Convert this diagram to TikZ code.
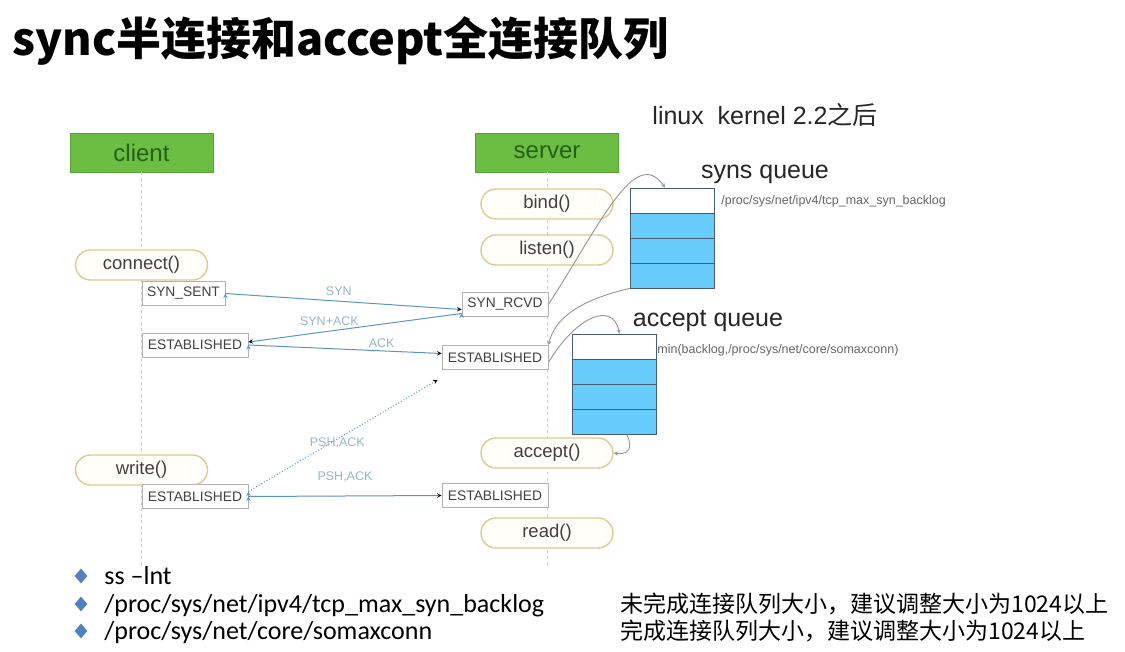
\documentclass[tikz,border=0pt]{standalone}
\usepackage{fontspec}
\setmainfont{Liberation Sans}
\newfontfamily\cjk{Noto Sans CJK SC}
\newfontfamily\slidefont{Carlito}
\usetikzlibrary{arrows, positioning, shapes.geometric}
\definecolor{boxgreen}{RGB}{108, 190, 66}
\definecolor{darkgreen}{RGB}{36, 96, 24}
\definecolor{pillborder}{RGB}{222, 202, 146}
\definecolor{pillfill}{RGB}{255, 254, 248}
\definecolor{queueblue}{RGB}{104, 204, 250}
\definecolor{queueline}{RGB}{72, 92, 112}
\definecolor{msgblue}{RGB}{92, 150, 200}
\definecolor{msgtext}{RGB}{150, 182, 206}
\definecolor{flowgray}{RGB}{150, 150, 150}
\definecolor{bulletblue}{RGB}{79, 129, 189}
\newcommand{\pt}[1]{\fontsize{#1}{#1}\selectfont}

\begin{document}
\begin{tikzpicture}[
                x = 1pt, y = -1pt, % pixel grid, y grows downwards
                > = stealth, % arrow head style
                line width = 0.8pt,
                font = \pt{18.5},
                ]
                \tikzstyle{role}=[
                    draw = boxgreen!85!black,
                    fill = boxgreen,
                    text = darkgreen,
                    minimum width = 143,
                    minimum height = 39,
                    font = \pt{24},
                ]
                \tikzstyle{pill}=[
                    draw = pillborder,
                    fill = pillfill,
                    line width = 1.4pt,
                    rounded corners = 15pt,
                    minimum width = 132,
                    minimum height = 30,
                    text = black!75,
                ]
                \tikzstyle{statebox}=[
                    draw = black!30,
                    fill = white,
                    minimum height = 24,
                    inner sep = 2pt,
                    text = black!75,
                    font = \pt{13.8},
                ]
                \tikzstyle{cell}=[
                    draw = queueline,
                    minimum width = 84,
                    minimum height = 25,
                    inner sep = 0pt,
                ]
                \tikzstyle{msg}=[draw = msgblue, line width = 1pt]
                \tikzstyle{msglabel}=[text = msgtext, font = \pt{12.5}, inner sep = 1pt]
                \tikzstyle{flow}=[draw = flowgray, line width = 0.9pt]
                \tikzstyle{pathnote}=[anchor = west, text = black!60, font = \pt{12.5}, inner sep = 0pt]
                \tikzstyle{heading}=[font = \pt{25}, text = black!85]
                \tikzstyle{lifeline}=[draw = red!20!black!20, dashed, line width = 1pt]
                \tikzstyle{bullet}=[diamond, fill = bulletblue, inner sep = 0pt,
                    minimum width = 13, minimum height = 15]
                \tikzstyle{item}=[anchor = base west, inner sep = 0pt, font = \slidefont\pt{26}]
                \tikzstyle{note}=[anchor = base west, inner sep = 0pt, font = \cjk\pt{23}]

                \useasboundingbox (0,0) rectangle (1125,652);
                \fill[white] (0,0) rectangle (1125,652);

                \node[anchor = base west, inner sep = 0pt, font = \cjk\bfseries\pt{45}]
                    (title) at (12,56) {sync半连接和accept全连接队列};

                % client and server with their lifelines
                \node[role] (client) at (141.5,152.5) {client};
                \node[role] (server) at (547,152.5) {server};
                \coordinate (clientend) at (141.5,565);
                \coordinate (serverend) at (547,565);
                \draw[lifeline] (client) -- (clientend);
                \draw[lifeline] (server) -- (serverend);

                \node[heading] (kernel) at (765,115) {linux\ \ kernel 2.2{\cjk 之后}};

                % calls
                \node[pill] (bind) at (547,204) {bind()};
                \node[pill] (listen) at (547,250) {listen()};
                \node[pill] (connect) at (141.5,265) {connect()};
                \node[pill] (accept) at (547,453) {accept()};
                \node[pill] (write) at (141.5,470) {write()};
                \node[pill] (read) at (547,533) {read()};

                % states
                \node[statebox, minimum width = 83] (synsent) at (183.5,293.5) {SYN\_SENT};
                \node[statebox, minimum width = 106] (clientest) at (195,345) {ESTABLISHED};
                \node[statebox, minimum width = 86] (synrcvd) at (505,304.5) {SYN\_RCVD};
                \node[statebox, minimum width = 106] (serverest) at (495,357.5) {ESTABLISHED};
                \node[statebox, minimum width = 106] (clientdata) at (195,496.5) {ESTABLISHED};
                \node[statebox, minimum width = 106] (serverdata) at (495,495.5) {ESTABLISHED};

                % syns queue
                \node[cell, fill = white] (syn1) at (672,200.5) {};
                \node[cell, fill = queueblue] (syn2) at (672,225.5) {};
                \node[cell, fill = queueblue] (syn3) at (672,250.5) {};
                \node[cell, fill = queueblue] (syn4) at (672,275.5) {};
                \node[heading] (synslabel) at (765,174) {syns queue};
                \node[pathnote] (synsnote) at (721,201) {/proc/sys/net/ipv4/tcp\_max\_syn\_backlog};

                % accept queue
                \node[cell, fill = white] (acc1) at (614.5,346.5) {};
                \node[cell, fill = queueblue] (acc2) at (614.5,371.5) {};
                \node[cell, fill = queueblue] (acc3) at (614.5,396.5) {};
                \node[cell, fill = queueblue] (acc4) at (614.5,421.5) {};
                \node[heading] (acceptlabel) at (708,321) {accept queue};
                \node[pathnote] (acceptnote) at (657,350) {min(backlog,/proc/sys/net/core/somaxconn)};

                % handshake
                \path[msg, ->] (synsent.east) edge
                node[msglabel, pos = 0.48, above = 4pt] {SYN}
                ([yshift = -5pt]synrcvd.west);

                \path[msg, ->] ([yshift = -9pt]synrcvd.west) edge
                node[msglabel, pos = 0.62, above = 4pt] {SYN+ACK}
                ([yshift = 3pt]clientest.east);

                \path[msg, ->] (clientest.east) edge
                node[msglabel, pos = 0.69, above = 2pt] {ACK}
                ([yshift = 4pt]serverest.west);

                % data
                \path[msg, dotted, ->] ([yshift = 5pt]clientdata.east) edge
                node[msglabel, pos = 0.47, yshift = -4pt] {PSH,ACK}
                ([shift = {(-4pt,-10pt)}]serverest.south west);

                \path[msg, ->] (clientdata.east) edge
                node[msglabel, pos = 0.5, above = 12pt] {PSH,ACK}
                (serverdata.west);

                % kernel moves
                \draw[flow, ->] (synrcvd.east) .. controls (600,225) and (635,145) .. ([xshift = -7pt]syn1.north);
                \draw[flow, ->] (syn4.south west) .. controls (580,300) and (555,318) .. (serverest.north east);
                \draw[flow, ->] ([yshift = -5pt]serverest.east) .. controls (575,318) and (612,300) .. ([xshift = 5pt]acc1.north);
                \draw[flow, ->] ([xshift = 12pt]acc4.south) .. controls (634,448) and (628,455) .. (accept.east);

                % notes
                \node[bullet] (b1) at (81,576) {};
                \node[bullet] (b2) at (81,604) {};
                \node[bullet] (b3) at (81,631) {};
                \node[item] (ss) at (104,584) {ss –lnt};
                \node[item] (synbacklog) at (104,612) {/proc/sys/net/ipv4/tcp\_max\_syn\_backlog};
                \node[item] (somaxconn) at (104,639) {/proc/sys/net/core/somaxconn};
                \node[note] (synhint) at (620,612) {未完成连接队列大小，建议调整大小为1024以上};
                \node[note] (accepthint) at (620,639) {完成连接队列大小，建议调整大小为1024以上};
            \end{tikzpicture}
\end{document}
